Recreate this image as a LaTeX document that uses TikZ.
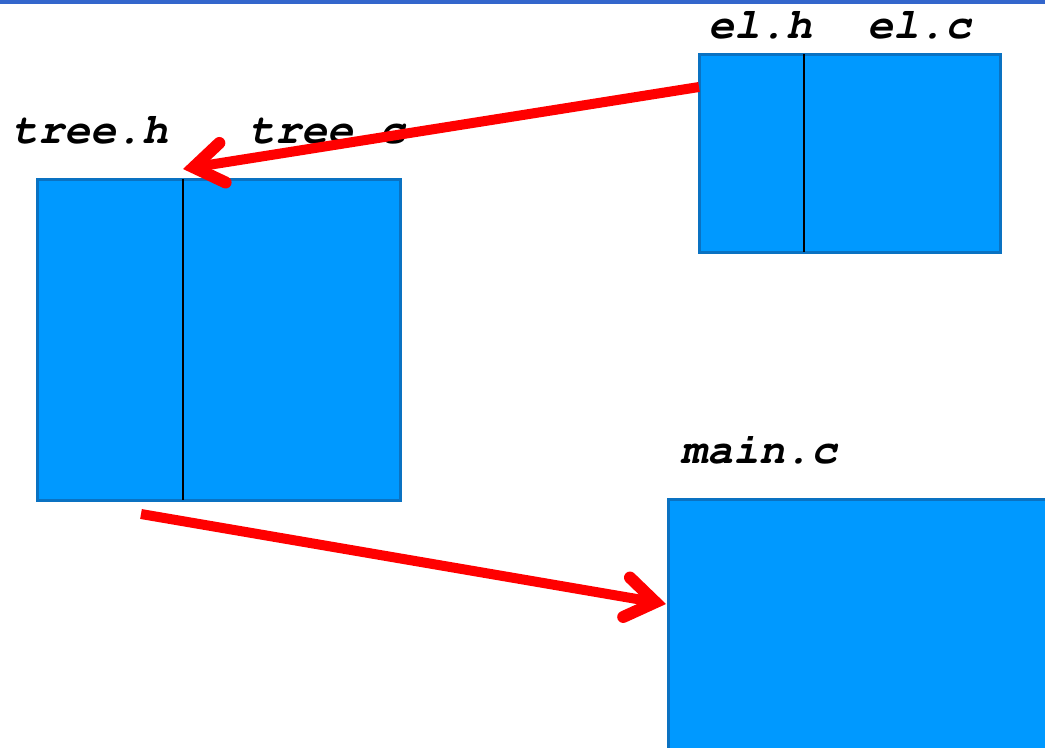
\documentclass[tikz,border=0pt]{standalone}
\usepackage{fontspec}
\setmonofont{Liberation Mono}
\usetikzlibrary{arrows.meta,calc}
\definecolor{boxfill}{HTML}{0099FF}
\definecolor{boxedge}{HTML}{0A72C2}
\definecolor{topbar}{HTML}{3366CC}
\definecolor{linkred}{HTML}{FF0000}
% bold oblique Courier for the file names
\newcommand{\courierbi}{\fontencoding{T1}\fontfamily{pcr}\fontseries{b}\fontshape{sl}%
  \fontsize{32.5}{36}\selectfont}
\begin{document}
\begin{tikzpicture}[x=0.75pt,y=-0.75pt,
  file/.style={draw=boxedge, line width=2.25pt, fill=boxfill, inner sep=0pt,
    outer sep=0pt, anchor=north west},
  fname/.style={anchor=base west, inner sep=0pt, font=\courierbi},
  divider/.style={draw=black, line width=1.1pt},
  link/.style={draw=linkred, line width=7.5pt,
    -{Straight Barb[length=22pt,width=30pt,line width=9pt,line cap=round,line join=miter]}}]
\useasboundingbox (0,0) rectangle (1045,747);
\clip (0,0) rectangle (1045,747);
% header rule
\fill[topbar] (0,0) rectangle (1045,3.5);

% source files
\node[file, minimum width=272.25pt, minimum height=240.75pt] (tree) at (37,179) {};
\draw[divider] ($(tree.north west)+(146,0)$) -- ($(tree.south west)+(146,0)$);
\node[file, minimum width=225.75pt, minimum height=148.5pt] (el) at (699,54) {};
\draw[divider] ($(el.north west)+(105,0)$) -- ($(el.south west)+(105,0)$);
\node[file, minimum width=324pt, minimum height=225.75pt] (main) at (668,499) {};

% file names
\node[fname] (treeh) at (12,143) {tree.h};
\node[fname] (treec) at (249,143) {tree.c};
\node[fname] (elh) at (708,38) {el.h};
\node[fname] (elc) at (867,38) {el.c};
\node[fname] (mainc) at (681,463) {main.c};

% dependencies
\coordinate (elout) at ($(el.north west)+(0,33)$);
\coordinate (treein) at ($(tree.north west)+(146,-10)$);
\coordinate (treeout) at ($(tree.south west)+(104,14)$);
\coordinate (mainin) at ($(main.north west)+(-2,105)$);
\draw[link] (elout) -- (treein);
\draw[link] (treeout) -- (mainin);
\end{tikzpicture}
\end{document}
